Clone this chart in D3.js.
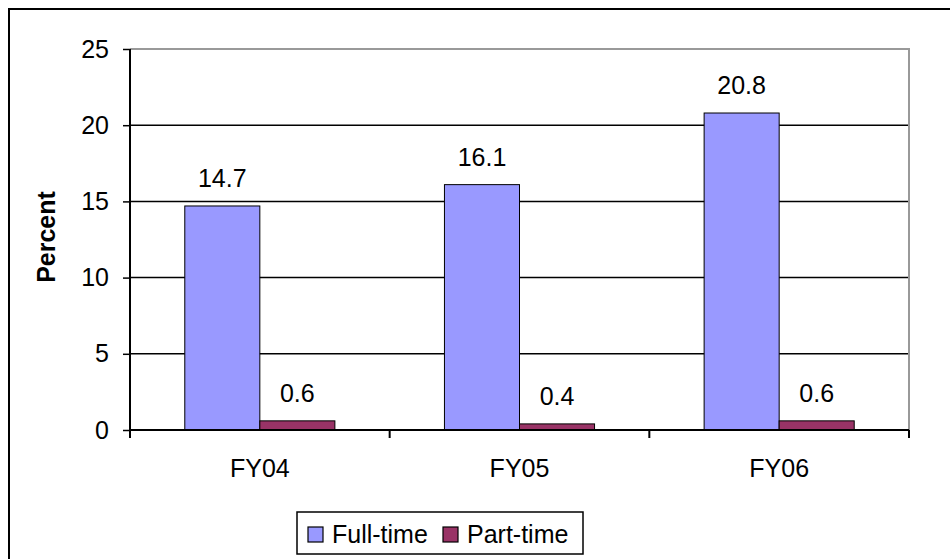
<!DOCTYPE html>
<html><head><meta charset="utf-8">
<script src="https://cdn.jsdelivr.net/npm/d3@7"></script>
<style>body{margin:0;background:#fff;} text{font-family:"Liberation Sans",Arial,sans-serif;}</style>
</head><body>
<svg id="c" width="950" height="559"></svg>
<script>
const categories = ["FY04", "FY05", "FY06"];
const seriesNames = ["Full-time", "Part-time"];
const fullTime = [14.7, 16.1, 20.8];
const partTime = [0.6, 0.4, 0.6];
const yTicks = [0, 5, 10, 15, 20, 25];
const colors = ["#9999FF", "#993366"];
const FS = 25;

const svg = d3.select("#c");
// outer border
svg.append("rect").attr("x", 9).attr("y", 9).attr("width", 960).attr("height", 560)
  .attr("fill", "#fff").attr("stroke", "#000").attr("stroke-width", 2);

const L = 130, R = 909, T = 49, B = 430;
const x = d3.scaleBand().domain(categories).range([L, R]).paddingInner(0).paddingOuter(0);
const y = d3.scaleLinear().domain([0, 25]).range([B, T]);
const inner = d3.scaleBand().domain(seriesNames).range([0, x.bandwidth()]).paddingInner(0).paddingOuter(0.73);

// gridlines
svg.append("g").selectAll("line").data(yTicks.filter(v => v > 0 && v < 25)).join("line")
  .attr("x1", L).attr("x2", R).attr("y1", d => y(d)).attr("y2", d => y(d))
  .attr("stroke", "#000").attr("stroke-width", 1.5);
// plot border top & right (gray)
svg.append("path").attr("d", `M${L},${y(25)}H${R}V${B}`).attr("fill", "none")
  .attr("stroke", "#999").attr("stroke-width", 2);

const series = [fullTime, partTime];
series.forEach((vals, si) => {
  svg.append("g").selectAll("rect").data(vals).join("rect")
    .attr("x", (d, i) => x(categories[i]) + inner(seriesNames[si]))
    .attr("y", d => y(d)).attr("width", inner.bandwidth()).attr("height", d => B - y(d))
    .attr("fill", colors[si]).attr("stroke", "#000").attr("stroke-width", 1);
  svg.append("g").selectAll("text").data(vals).join("text")
    .attr("x", (d, i) => x(categories[i]) + inner(seriesNames[si]) + inner.bandwidth() / 2)
    .attr("y", d => y(d) - 19).attr("text-anchor", "middle")
    .attr("font-size", FS).attr("fill", "#000").text(d => d.toFixed(1));
});

// y axis
const yAxis = svg.append("g").attr("transform", `translate(${L},0)`)
  .call(d3.axisLeft(y).tickValues(yTicks).tickSize(7).tickPadding(14).tickFormat(d3.format("d")));
yAxis.select(".domain").attr("stroke", "#000").attr("stroke-width", 2).attr("d", `M0,${T}V${B}`);
yAxis.selectAll(".tick line").attr("stroke", "#000").attr("stroke-width", 1.5);
yAxis.selectAll("text").attr("font-size", FS).attr("fill", "#000").attr("font-family", "Liberation Sans, Arial, sans-serif");

// x axis
const xg = svg.append("g").attr("transform", `translate(0,${B})`);
xg.append("line").attr("x1", L).attr("x2", R).attr("stroke", "#000").attr("stroke-width", 2);
const bounds = categories.map(c => x(c)).concat([R]);
xg.selectAll("line.tk").data(bounds).join("line").attr("class", "tk")
  .attr("x1", d => d).attr("x2", d => d).attr("y1", 0).attr("y2", 8)
  .attr("stroke", "#000").attr("stroke-width", 2);
xg.selectAll("text").data(categories).join("text")
  .attr("x", d => x(d) + x.bandwidth() / 2).attr("y", 47).attr("text-anchor", "middle")
  .attr("font-size", FS).attr("fill", "#000").text(d => d);

// y title
svg.append("text").attr("transform", "translate(55,237) rotate(-90)").attr("text-anchor", "middle")
  .attr("font-size", FS).attr("font-weight", "bold").attr("fill", "#000").text("Percent");

// legend
const lg = svg.append("g");
lg.append("rect").attr("x", 297).attr("y", 512).attr("width", 286).attr("height", 42)
  .attr("fill", "#fff").attr("stroke", "#000").attr("stroke-width", 1.5);
const legX = [308, 443];
seriesNames.forEach((s, i) => {
  lg.append("rect").attr("x", legX[i]).attr("y", 527).attr("width", 15).attr("height", 15)
    .attr("fill", colors[i]).attr("stroke", "#000").attr("stroke-width", 1.2);
  lg.append("text").attr("x", legX[i] + 24).attr("y", 543).attr("font-size", FS)
    .attr("fill", "#000").text(s);
});
</script>
</body></html>
